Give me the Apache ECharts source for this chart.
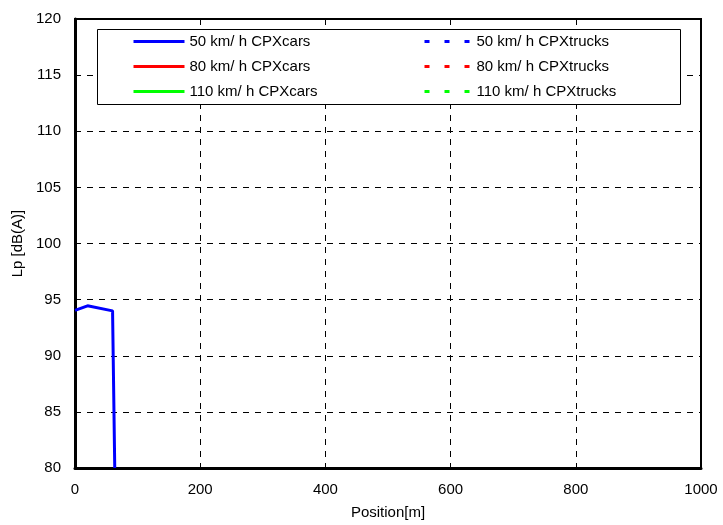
<!DOCTYPE html>
<html>
<head>
<meta charset="utf-8">
<script src="https://cdn.jsdelivr.net/npm/echarts@6/dist/echarts.min.js"></script>
<style>html,body{margin:0;padding:0;background:#fff}#c{width:723px;height:525px}</style>
</head>
<body>
<div id="c"></div>
<script>
// ---- data ----
var positions = [0, 20, 60, 63.5];
var cars50 = [94.05, 94.45, 94.0, 80];
var cars80 = [];
var cars110 = [];
var trucks50 = [];
var trucks80 = [];
var trucks110 = [];
var carNames = ['50 km/ h CPXcars', '80 km/ h CPXcars', '110 km/ h CPXcars'];
var truckNames = ['50 km/ h CPXtrucks', '80 km/ h CPXtrucks', '110 km/ h CPXtrucks'];
var xTicks = [0, 200, 400, 600, 800, 1000];
var yTicks = [80, 85, 90, 95, 100, 105, 110, 115, 120];

function pairs(xs, ys) { return ys.map(function (v, i) { return [xs[i], v]; }); }

var FONT = 'Liberation Sans, Arial, sans-serif';
var chart = echarts.init(document.getElementById('c'), null, { renderer: 'canvas' });

function mk(name, data, color, dashed) {
  return {
    name: name, type: 'line', data: data, symbol: 'none', showSymbol: false, clip: true,
    lineStyle: { color: color, width: 3, type: dashed ? [5, 15] : 'solid' },
    itemStyle: { color: color }
  };
}

var legendCommon = {
  orient: 'vertical', top: 29, z: 20,
  itemHeight: 14, itemGap: 10,
  itemStyle: { opacity: 0, borderWidth: 0 },
  lineStyle: { width: 3 },
  textStyle: { fontFamily: FONT, fontSize: 15, color: '#000' }
};

chart.setOption({
  backgroundColor: '#fff',
  animation: false,
  grid: { left: 75, right: 22, top: 19, bottom: 55, show: true, borderColor: '#000', borderWidth: 2, backgroundColor: 'transparent' },
  xAxis: {
    type: 'value', min: xTicks[0], max: xTicks[xTicks.length - 1], interval: 200,
    name: 'Position[m]', nameLocation: 'middle', nameGap: 37,
    nameTextStyle: { fontFamily: FONT, fontSize: 15, color: '#000' },
    axisLine: { show: true, lineStyle: { color: '#000', width: 3 } },
    axisTick: { show: false },
    axisLabel: { fontFamily: FONT, fontSize: 15, color: '#000', margin: 14, formatter: function (v) { return String(v); } },
    splitLine: { show: true, lineStyle: { color: '#000', width: 1, type: [6, 6] } }
  },
  yAxis: {
    type: 'value', min: yTicks[0], max: yTicks[yTicks.length - 1], interval: 5,
    name: 'Lp [dB(A)]', nameLocation: 'middle', nameGap: 50,
    nameTextStyle: { fontFamily: FONT, fontSize: 15, color: '#000' },
    axisLine: { show: true, lineStyle: { color: '#000', width: 3 } },
    axisTick: { show: false },
    axisLabel: { fontFamily: FONT, fontSize: 15, color: '#000', margin: 14, formatter: function (v) { return String(v); } },
    splitLine: { show: true, lineStyle: { color: '#000', width: 1, type: [6, 6] } }
  },
  graphic: [{
    type: 'rect', left: 97, top: 29, z: 10,
    shape: { width: 583, height: 75 },
    style: { fill: '#fff', stroke: '#000', lineWidth: 1 }
  }],
  legend: [
    Object.assign({ data: carNames, left: 127, itemWidth: 51 }, legendCommon),
    Object.assign({ data: truckNames, left: 418, itemWidth: 47 }, legendCommon)
  ],
  series: [
    mk(carNames[0], pairs(positions, cars50), '#0000ff', false),
    mk(carNames[1], pairs(positions, cars80), '#ff0000', false),
    mk(carNames[2], pairs(positions, cars110), '#00ff00', false),
    mk(truckNames[0], pairs(positions, trucks50), '#0000ff', true),
    mk(truckNames[1], pairs(positions, trucks80), '#ff0000', true),
    mk(truckNames[2], pairs(positions, trucks110), '#00ff00', true)
  ]
});
</script>
</body>
</html>
